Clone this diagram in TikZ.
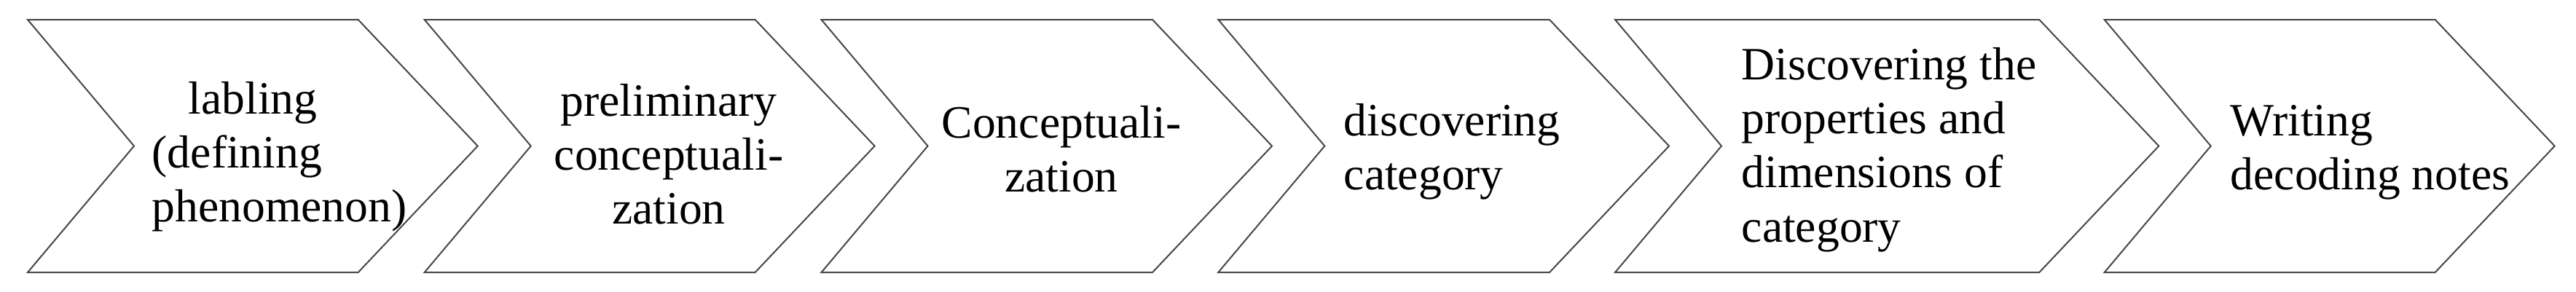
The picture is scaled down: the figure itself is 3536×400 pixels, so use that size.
\documentclass[tikz,border=0pt]{standalone}
\usepackage{fontspec}
\setmainfont{Liberation Serif}
\newcommand\mychev[2]{\draw[chev] (#1,27) -- (#2,27) -- ({#2+164},200.5) -- (#2,374) -- (#1,374) -- ({#1+146},200.5) -- cycle;}
\begin{document}
\begin{tikzpicture}[x=0.25pt,y=-0.25pt,
  chev/.style={draw=black!72, line width=0.5pt, line join=miter},
  lbl/.style={inner sep=0pt, font=\fontsize{15.9}{18.6}\selectfont}]
\fill[white] (0,0) rectangle (3536,400);
\useasboundingbox (0,0) rectangle (3536,400);
\mychev{38}{491.7}
\mychev{582.7}{1036.6}
\mychev{1127.5}{1582}
\mychev{1672.3}{2127}
\mychev{2217}{2799.3}
\mychev{2888.7}{3342.7}
\node[lbl, anchor=base west] (t1) at (208,156) {\begin{tabular}[t]{@{}l@{}}\hspace*{12.5pt}labling\\(defining\\phenomenon)\end{tabular}};
\node[lbl, anchor=base] (t2) at (918,159) {\begin{tabular}[t]{@{}c@{}}preliminary\\conceptuali-\\zation\end{tabular}};
\node[lbl, anchor=base] (t3) at (1457,189) {\begin{tabular}[t]{@{}c@{}}Conceptuali-\\zation\end{tabular}};
\node[lbl, anchor=base west] (t4) at (1844,186) {\begin{tabular}[t]{@{}l@{}}discovering\\category\end{tabular}};
\node[lbl, anchor=base west] (t5) at (2390,109) {\begin{tabular}[t]{@{}l@{}}Discovering the\\properties and\\dimensions of\\category\end{tabular}};
\node[lbl, anchor=base west] (t6) at (3061,186) {\begin{tabular}[t]{@{}l@{}}Writing\\decoding notes\end{tabular}};
\end{tikzpicture}
\end{document}
